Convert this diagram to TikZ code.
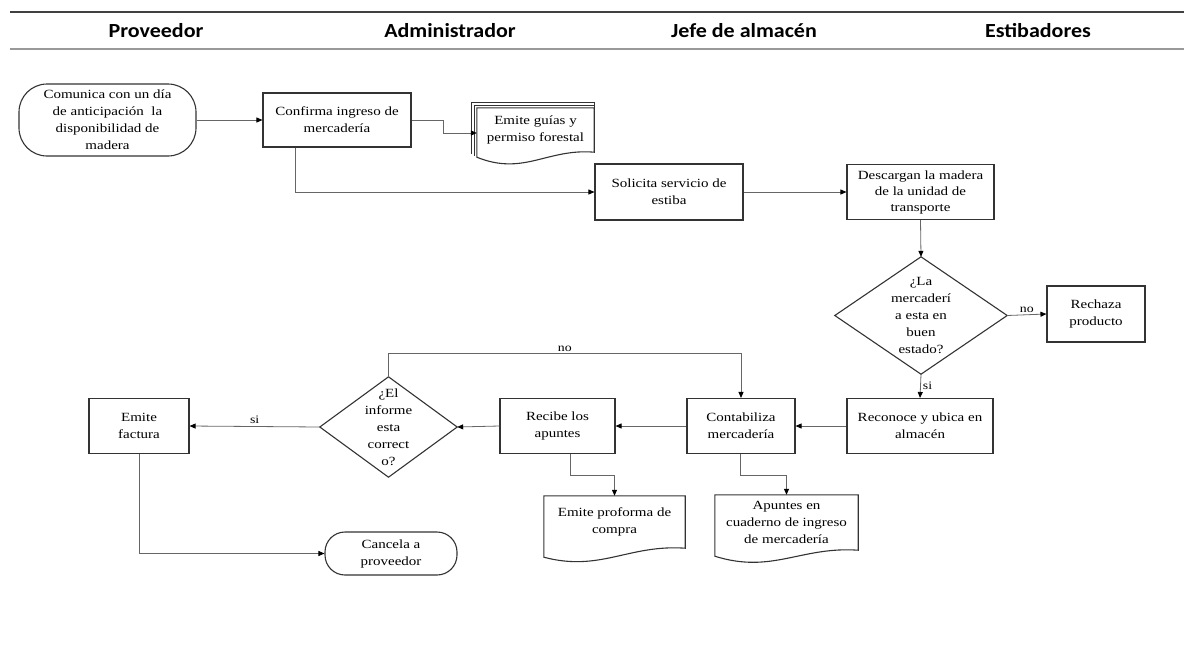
\documentclass[tikz,border=0pt]{standalone}
\usepackage{fontspec}
\setmainfont{Liberation Serif}[FakeStretch=1.2]
\newfontfamily\hdrfont{Carlito}[FakeStretch=1.1]
\usetikzlibrary{arrows.meta,calc}
\definecolor{boxc}{gray}{0.2}
\definecolor{linec}{gray}{0.4}
\newcommand\fs{\fontsize{12.5}{17}\selectfont}
\newcommand\docout[2]{\draw[boxst] (#1.south east) -- (#1.north east) -- (#1.north west) -- ([yshift=-#2pt]#1.south west) .. controls ($(#1.south west)!0.4!(#1.south east)+(0,24)$) and ($(#1.south west)!0.6!(#1.south east)+(0,-4)$) .. (#1.south east) -- cycle;}
\begin{document}
\begin{tikzpicture}[x=1pt,y=-1pt,
  boxst/.style={draw=boxc,line width=1.1pt,fill=white},
  proc/.style={boxst,align=center,inner sep=1pt,font=\fs},
  txt/.style={align=center,inner sep=1pt,font=\fs},
  arr/.style={draw=linec,line width=0.8pt,-{Triangle[length=6pt,width=5pt,color=black]}},
  lbl/.style={font=\fontsize{11.5}{13}\selectfont,inner sep=2pt},
  hdr/.style={font=\hdrfont\bfseries\fontsize{20}{24}\selectfont,anchor=base}]
\useasboundingbox (0,0) rectangle (1189,665);
% header
\draw[line width=1.5pt,black!75] (10,12) -- (1184,12);
\draw[line width=2.8pt,black!40] (10,49) -- (1184,49);
\node[hdr] (h1) at (156,37) {Proveedor};
\node[hdr] (h2) at (450,37) {Administrador};
\node[hdr] (h3) at (744,37) {Jefe de almacén};
\node[hdr] (h4) at (1038,37) {Estibadores};
% nodes
\node[proc,minimum width=177pt,minimum height=72pt,rounded corners=28pt] (start) at (107.5,120) {Comunica con un día\\de anticipación\ \ la\\disponibilidad de\\madera};
\node[proc,minimum width=148pt,minimum height=54pt] (confirma) at (337,120) {Confirma ingreso de\\mercadería};
\node[txt,minimum width=117pt,minimum height=44pt] (guias) at (535.5,130) {};
\draw[boxst,fill=none] ([xshift=-5pt,yshift=-2pt]guias.south west) |- ([yshift=5pt]guias.north east) -- ([yshift=2.5pt]guias.north east);
\draw[boxst,fill=none] ([xshift=-2.5pt,yshift=-4pt]guias.south west) |- ([yshift=2.5pt]guias.north east) -- (guias.north east);
\docout{guias}{5}
\node[txt] at (guias) {Emite guías y\\permiso forestal};
\node[proc,minimum width=148pt,minimum height=56pt] (solicita) at (669,192) {Solicita servicio de\\estiba};
\node[proc,minimum width=147pt,minimum height=55pt,inner sep=0pt,font=\fontsize{12.5}{16}\selectfont] (descargan) at (920.5,192) {Descargan la madera\\de la unidad de\\transporte};
\node[txt,minimum width=172pt,minimum height=117pt] (d1) at (921,315.5) {¿La\\mercaderí\\a esta en\\buen\\estado?};
\draw[boxst,fill=none] (d1.north) -- (d1.east) -- (d1.south) -- (d1.west) -- cycle;
\node[proc,minimum width=98pt,minimum height=56pt] (rechaza) at (1096,314) {Rechaza\\producto};
\node[proc,minimum width=146pt,minimum height=55pt] (reconoce) at (920,426) {Reconoce y ubica en\\almacén};
\node[proc,minimum width=108pt,minimum height=55pt] (conta) at (741,426) {Contabiliza\\mercadería};
\node[proc,minimum width=115pt,minimum height=55pt] (recibe) at (557.5,426) {Recibe los\\apuntes};
\node[txt,minimum width=137pt,minimum height=100pt] (d2) at (388.5,427) {¿El\\informe\\esta\\correct\\o?};
\draw[boxst,fill=none] (d2.north) -- (d2.east) -- (d2.south) -- (d2.west) -- cycle;
\node[proc,minimum width=100pt,minimum height=55pt] (factura) at (139,426) {Emite\\factura};
\node[proc,minimum width=132pt,minimum height=43pt,rounded corners=20pt] (cancela) at (391,553.5) {Cancela a\\proveedor};
\node[txt,minimum width=141pt,minimum height=52pt] (proforma) at (614.5,522) {};
\docout{proforma}{9}
\node[txt] at (proforma) {Emite proforma de\\compra};
\node[txt,minimum width=143pt,minimum height=55pt] (apuntes) at (786.5,522.5) {};
\docout{apuntes}{6}
\node[txt] at (apuntes) {Apuntes en\\cuaderno de ingreso\\de mercadería};
% connectors
\draw[arr] (start.east) -- (confirma.west);
\draw[arr] (confirma.east) -- ++(32,0) |- ([yshift=-3pt]guias.west);
\draw[arr] ([xshift=-42pt]confirma.south) |- (solicita.west);
\draw[arr] (solicita.east) -- (descargan.west);
\draw[arr] (descargan.south) -- (d1.north);
\draw[arr] (d1.east) -- node[lbl,above]{no} (rechaza.west);
\draw[arr] (d1.south) -- node[lbl,right]{si} (reconoce.north);
\draw[arr] (reconoce.west) -- (conta.east);
\draw[arr] (conta.west) -- (recibe.east);
\draw[arr] (recibe.west) -- (d2.east);
\draw[arr] (d2.west) -- node[lbl,above]{si} (factura.east);
\draw[arr] (d2.north) -- ++(0,-23) -| node[lbl,above,pos=0.25]{no} (conta.north);
\draw[arr] (factura.south) |- (cancela.west);
\draw[arr] ([xshift=12.5pt]recibe.south) -- ++(0,21) -| (proforma.north);
\draw[arr] ([xshift=-1pt]conta.south) -- ++(0,21) -| (apuntes.north);
\end{tikzpicture}
\end{document}
